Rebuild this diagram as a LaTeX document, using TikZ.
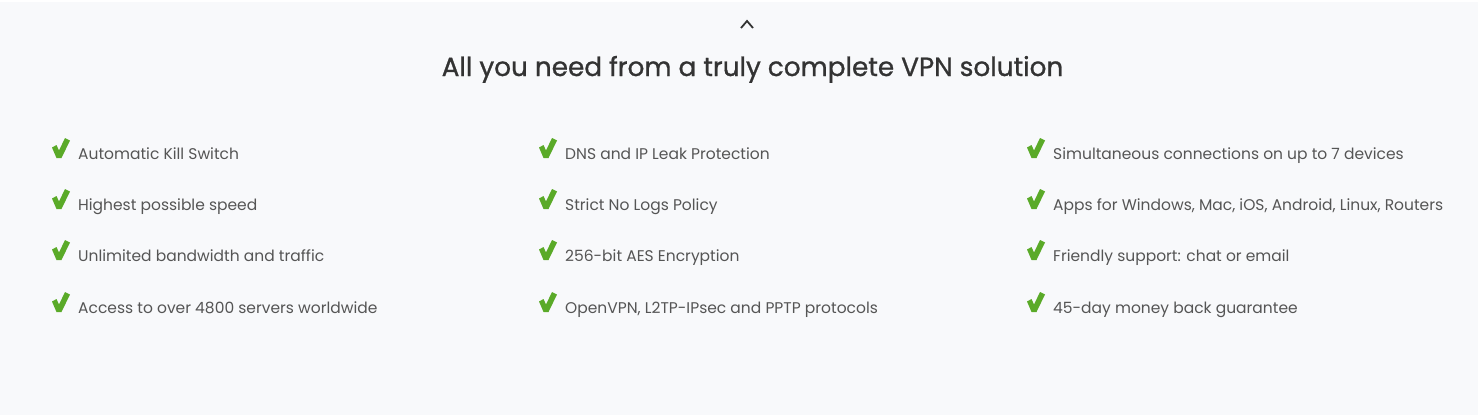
\documentclass[tikz,border=0pt]{standalone}
\usepackage{fontspec}
\setmainfont{Poppins}
\newfontfamily\titlefont{Poppins}[FakeBold=0.9]
\definecolor{bg}{HTML}{F8F9FB}
\definecolor{chk}{HTML}{5AAA28}
\definecolor{itemtxt}{HTML}{555555}
\definecolor{titletxt}{HTML}{333333}
\tikzset{
  item/.style={anchor=base west, inner sep=0pt, text=itemtxt, font=\fontsize{15.5}{17}\selectfont},
  titlestyle/.style={anchor=base, inner sep=0pt, text=titletxt, font=\titlefont\fontsize{26.3}{30}\selectfont},
  check/.pic={\fill[chk] (0,9.5) -- (4.5,7) -- (7,12.5) -- (13,0) -- (18,2.5) -- (9.5,20) -- (4.5,20) -- cycle;}
}
\begin{document}
\begin{tikzpicture}[x=1pt,y=-1pt]
\fill[bg] (0,0) rectangle (1478,415);
\fill[white] (0,0) rectangle (1478,2);
\useasboundingbox (0,0) rectangle (1478,415);
\coordinate (chevL) at (741,28);
\coordinate (chevT) at (747,21);
\coordinate (chevR) at (753,28);
\draw[titletxt, line width=1.8pt] (chevL) -- (chevT) -- (chevR);
\node[titlestyle] (title) at (752.5,76) {All you need from a truly complete VPN solution};
\foreach \col/\cx in {a/52, b/539, c/1027} {
  \foreach \row/\by in {1/159, 2/210, 3/261, 4/313} {
    \pic at (\cx,\by-21) {check};
  }
}
\node[item] (a1) at (78,159) {Automatic Kill Switch};
\node[item] (a2) at (78,210) {Highest possible speed};
\node[item] (a3) at (78,261) {Unlimited bandwidth and traffic};
\node[item] (a4) at (78,313) {Access to over 4800 servers worldwide};
\node[item] (b1) at (565,159) {DNS and IP Leak Protection};
\node[item] (b2) at (565,210) {Strict No Logs Policy};
\node[item] (b3) at (565,261) {256-bit AES Encryption};
\node[item] (b4) at (565,313) {OpenVPN, L2TP-IPsec and PPTP protocols};
\node[item] (c1) at (1053,159) {Simultaneous connections on up to 7 devices};
\node[item] (c2) at (1053,210) {Apps for Windows, Mac, iOS, Android, Linux, Routers};
\node[item] (c3) at (1053,261) {Friendly support: chat or email};
\node[item] (c4) at (1053,313) {45-day money back guarantee};
\end{tikzpicture}
\end{document}
